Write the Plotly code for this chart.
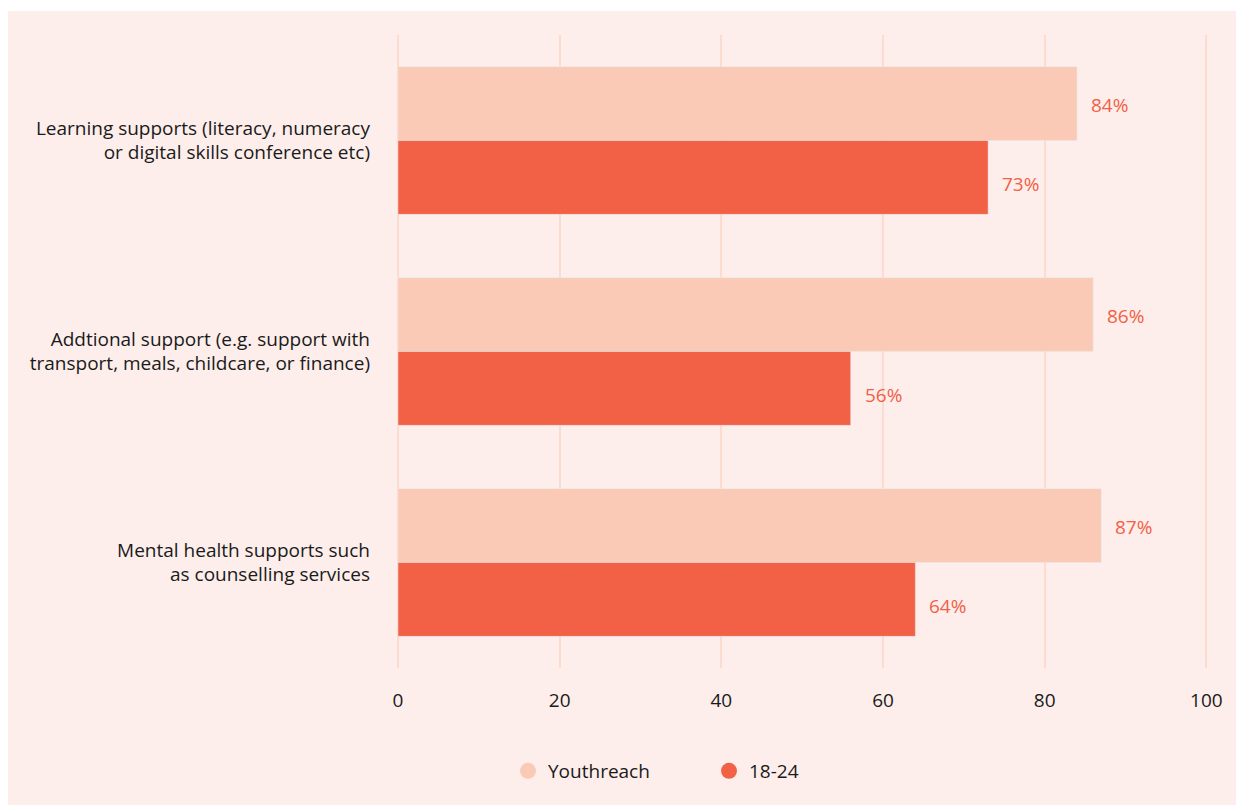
import plotly.graph_objects as go

# Survey categories (two-line labels) and shares for each group
categories = [
    "Learning supports (literacy, numeracy<br>or digital skills conference etc)",
    "Addtional support (e.g. support with<br>transport, meals, childcare, or finance)",
    "Mental health supports such<br>as counselling services",
]
youthreach = [84, 86, 87]
age_18_24 = [73, 56, 64]
x_ticks = [0, 20, 40, 60, 80, 100]

C_LIGHT = "#fbcab6"
C_DARK = "#f26045"
BG = "#fdeeeb"
GRID = "#fbdccf"
FONT = "'Open Sans', Lato, sans-serif"
FS = 19

W, H = 1240, 805
ML, MR, MT, MB = 398, 32, 35, 137
PW, PH = W - ML - MR, H - MT - MB

fig = go.Figure()
fig.add_trace(go.Bar(y=categories, x=youthreach, orientation="h", marker_color=C_LIGHT,
                     name="Youthreach", showlegend=False, hoverinfo="x"))
fig.add_trace(go.Bar(y=categories, x=age_18_24, orientation="h", marker_color=C_DARK,
                     name="18-24", showlegend=False, hoverinfo="x"))

# Circle legend entries
for name, col in [("Youthreach", C_LIGHT), ("18-24", C_DARK)]:
    fig.add_trace(go.Scatter(x=[None], y=[None], mode="markers", name=name,
                             marker=dict(symbol="circle", size=18, color=col)))

# Value labels beside each bar
annotations = []
for i, cat in enumerate(categories):
    for val, off in [(youthreach[i], -0.17), (age_18_24[i], 0.205)]:
        annotations.append(dict(
            x=val, y=i + off, xref="x", yref="y", text=f"{val}%",
            showarrow=False, xanchor="left", yanchor="middle", xshift=12,
            font=dict(family=FONT, size=FS, color=C_DARK)))

# Pink panel behind the chart
shapes = [dict(type="rect", xref="paper", yref="paper", layer="below",
               x0=(8 - ML) / PW, x1=(1236 - ML) / PW,
               y0=(H - MB - 805) / PH, y1=(H - MB - 11) / PH,
               fillcolor=BG, line=dict(width=0))]

fig.update_layout(
    width=W, height=H,
    margin=dict(l=ML, r=MR, t=MT, b=MB, pad=0),
    paper_bgcolor="white", plot_bgcolor="rgba(0,0,0,0)",
    barmode="group", bargap=0.3, bargroupgap=0,
    font=dict(family=FONT, size=FS, color="#1a1a1a"),
    shapes=shapes, annotations=annotations,
    legend=dict(orientation="h", x=(508 - ML) / PW, xanchor="left",
                y=(H - MB - 771) / PH, yanchor="middle",
                font=dict(family=FONT, size=FS, color="#1a1a1a"),
                entrywidth=156, entrywidthmode="pixels",
                bgcolor="rgba(0,0,0,0)"),
    xaxis=dict(range=[0, 100.2], tickvals=x_ticks, showgrid=True, gridcolor=GRID,
               gridwidth=1.5, zeroline=True, zerolinecolor=GRID, zerolinewidth=1.5,
               showline=False, ticks="",
               ticklabelstandoff=19, tickfont=dict(size=FS)),
    yaxis=dict(autorange="reversed", showgrid=False, zeroline=False, showline=False,
               ticks="", ticklabelstandoff=27, tickfont=dict(size=FS)),
)

fig.write_html("out.html")
